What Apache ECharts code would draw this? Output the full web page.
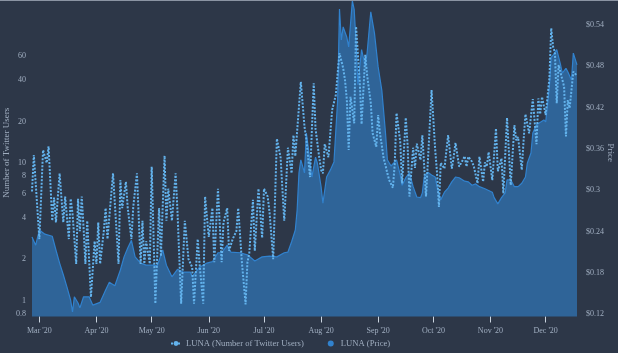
<!DOCTYPE html>
<html>
<head>
<meta charset="utf-8">
<script src="https://cdn.jsdelivr.net/npm/echarts@6/dist/echarts.min.js"></script>
<style>
  html, body { margin: 0; padding: 0; background: #2d3748; }
  #chart-container { width: 618px; height: 353px; }
  #top-rule { position: absolute; top: 0; left: 0; width: 618px; height: 1px; background: #8b94a3; }
</style>
</head>
<body>
<div id="chart-container"></div>
<div id="top-rule"></div>
<script>
// days counted from 26 Feb 2020
var twitterDay = [
  0, 1, 4, 6, 8, 9, 11, 12, 13, 15,
  17, 18, 20, 21, 22, 24, 25, 26, 27, 28,
  29, 30, 32, 34, 35, 36, 37, 39, 40, 41,
  44, 47, 48, 49, 51, 52, 54, 55, 57, 59,
  60, 61, 62, 64, 65, 67, 69, 70, 72, 73,
  74, 76, 77, 78, 79, 81, 83, 85, 87, 88,
  90, 91, 93, 94, 96, 98, 99, 101, 103, 104,
  106, 107, 109, 111, 112, 114, 116, 117, 118, 120,
  121, 123, 125, 126, 128, 129, 131, 133, 135, 136,
  137, 139, 141, 142, 143, 146, 148, 149, 151, 153,
  154, 156, 157, 158, 159, 161, 163, 165, 166, 167,
  169, 170, 171, 172, 173, 175, 176, 178, 179, 181,
  182, 184, 185, 187, 188, 189, 191, 192, 193, 194,
  196, 197, 198, 200, 201, 203, 204, 205, 207, 208,
  209, 211, 212, 214, 216, 217, 219, 220, 221, 222,
  224, 225, 226, 228, 229, 230, 232, 234, 235, 236,
  237, 239, 240, 242, 243, 245, 246, 247, 248, 250,
  252, 253, 255, 256, 258, 260, 262, 263, 264, 266,
  267, 268, 270, 272, 273, 274, 275, 276, 277, 278,
  279, 281, 282, 283, 284, 285, 286, 287, 289, 290,
  291, 292, 293, 294, 296
];
var twitterUsers = [
  6.2, 11.4, 2.8, 12.4, 10, 13.2, 3.8, 5.6, 3.7, 8.4,
  3.7, 5.7, 2.8, 5.5, 4.3, 1.85, 5.5, 3.2, 5.7, 3.4,
  1.85, 3.8, 1.06, 2.7, 1.85, 3.7, 1.85, 3.2, 4.7, 2.8,
  8.4, 1.85, 7.5, 4.7, 7.3, 4.7, 2.8, 4.8, 8.4, 1.85,
  3.8, 1.85, 2.7, 1.85, 9.4, 0.95, 4.7, 2.1, 11.3, 3.8,
  6.5, 3.8, 5.7, 8.4, 4.5, 0.95, 3.8, 2.0, 1.75, 0.95,
  2.8, 1.85, 0.95, 5.7, 2.9, 4.7, 1.9, 6.5, 1.9, 3.7,
  4.7, 2.3, 2.8, 3.2, 4.7, 1.9, 0.94, 1.9, 2.2, 5.4,
  2.3, 6.5, 2.85, 6.5, 5.7, 4.4, 2.0, 15, 11, 11,
  3.8, 12.9, 8.4, 15.9, 11.2, 38.9, 18.3, 14.9, 7.9, 37.9,
  17.6, 11, 8.9, 8.4, 13.7, 11, 24.2, 31.1, 44.8, 62.6,
  48.9, 40, 28.6, 12.4, 30.2, 19.4, 97.8, 38.9, 19.1, 60.9,
  43.5, 27.2, 16.4, 13.1, 22.3, 16.4, 10.8, 9.6, 8.4, 7.5,
  6.6, 9.8, 23, 14.2, 7.1, 21.3, 13.5, 5.7, 12.9, 9.2,
  13.8, 10.5, 15.9, 5.7, 18.3, 33.8, 12.4, 8.4, 4.8, 10,
  9.1, 9.4, 15.9, 9.1, 11, 14, 9.4, 10.5, 11.2, 9.4,
  11.1, 10.2, 9.4, 7.1, 11.1, 7.3, 10.1, 9.4, 12, 7.5,
  17.8, 8.7, 10.8, 6.0, 21.3, 6.9, 18.8, 14.6, 15.4, 8.9,
  14.6, 22.6, 16.4, 29.1, 28.6, 13.7, 29.4, 22.6, 30.2, 29.9,
  22.3, 41.1, 95.3, 70, 63.5, 27.1, 51.5, 53, 35.8, 15.6,
  28.6, 25, 25, 46, 43
];

var priceDay = [
  0, 2, 4, 7, 11, 13, 15, 17, 19, 21,
  22, 23, 25, 26, 28, 31, 33, 37, 40, 42,
  45, 48, 50, 52, 54, 56, 59, 62, 66, 68,
  71, 73, 76, 79, 82, 86, 87, 91, 95, 98,
  101, 103, 106, 108, 113, 117, 121, 125, 129, 133,
  137, 139, 141, 143, 144, 145, 146, 148, 149, 150,
  152, 154, 155, 157, 158, 160, 162, 164, 166, 167,
  168, 169, 171, 172, 174, 175, 176, 177, 179, 181,
  182, 184, 186, 188, 190, 192, 193, 195, 198, 200,
  201, 203, 205, 207, 209, 211, 212, 213, 215, 217,
  219, 220, 222, 224, 226, 228, 230, 232, 235, 237,
  239, 241, 243, 246, 247, 250, 251, 253, 255, 257,
  258, 260, 262, 264, 266, 268, 269, 271, 272, 274,
  278, 279, 281, 282, 283, 285, 287, 288, 290, 291,
  293, 294, 296
];
var priceUsd = [
  0.232, 0.220, 0.242, 0.236, 0.233, 0.213, 0.194, 0.177, 0.159, 0.140,
  0.123, 0.145, 0.136, 0.129, 0.145, 0.145, 0.133, 0.137, 0.155, 0.166,
  0.161, 0.184, 0.203, 0.216, 0.227, 0.203, 0.194, 0.191, 0.191, 0.190,
  0.213, 0.191, 0.174, 0.185, 0.181, 0.181, 0.174, 0.188, 0.194, 0.196,
  0.209, 0.209, 0.220, 0.210, 0.209, 0.206, 0.197, 0.203, 0.204, 0.203,
  0.209, 0.210, 0.225, 0.242, 0.271, 0.325, 0.344, 0.325, 0.383, 0.363,
  0.319, 0.348, 0.339, 0.305, 0.281, 0.319, 0.329, 0.341, 0.431, 0.563,
  0.518, 0.537, 0.522, 0.508, 0.575, 0.562, 0.514, 0.453, 0.504, 0.480,
  0.499, 0.559, 0.528, 0.479, 0.445, 0.383, 0.344, 0.335, 0.344, 0.322,
  0.307, 0.318, 0.325, 0.305, 0.290, 0.289, 0.296, 0.319, 0.326, 0.322,
  0.319, 0.305, 0.286, 0.297, 0.303, 0.312, 0.319, 0.318, 0.313, 0.312,
  0.307, 0.309, 0.305, 0.302, 0.300, 0.297, 0.289, 0.280, 0.289, 0.296,
  0.315, 0.315, 0.305, 0.305, 0.310, 0.319, 0.339, 0.354, 0.383, 0.395,
  0.402, 0.399, 0.450, 0.493, 0.496, 0.504, 0.483, 0.470, 0.477, 0.472,
  0.460, 0.499, 0.482
];

// first day of each month, as a day count from 26 Feb 2020
var monthDay = [4, 35, 65, 96, 126, 157, 188, 218, 249, 279];
var monthLabels = ["Mar '20", "Apr '20", "May '20", "Jun '20", "Jul '20",
  "Aug '20", "Sep '20", "Oct '20", "Nov '20", "Dec '20"];
var userTicks = [0.8, 1, 2, 4, 6, 8, 10, 20, 40, 60];
var priceTicks = [0.12, 0.18, 0.24, 0.3, 0.36, 0.42, 0.48, 0.54];

var fontName = "Liberation Serif";
var textColor = "#a0aec0";

var twitterData = twitterDay.map(function (d, i) { return [d, twitterUsers[i]]; });
var priceData = priceDay.map(function (d, i) { return [d, priceUsd[i]]; });

var myChart = echarts.init(document.getElementById("chart-container"));

var option = {
  backgroundColor: "#2d3748",
  animation: false,
  grid: { left: 32, right: 41, top: 1, bottom: 36.5, outerBoundsMode: "none" },
  legend: {
    bottom: 0,
    left: 165,
    itemGap: 24,
    itemWidth: 10,
    itemHeight: 6,
    textStyle: { color: textColor, fontSize: 8.6, fontFamily: fontName },
    data: [
      { name: "LUNA (Number of Twitter Users)" },
      { name: "LUNA (Price)", icon: "circle" }
    ]
  },
  xAxis: {
    type: "value",
    min: 0,
    max: 296,
    axisLine: { show: false },
    splitLine: { show: false },
    axisTick: {
      show: true,
      length: 6,
      customValues: monthDay,
      lineStyle: { color: "#cbd5e0" }
    },
    axisLabel: {
      customValues: monthDay,
      color: textColor,
      fontSize: 8,
      fontFamily: fontName,
      margin: 10,
      formatter: function (v) {
        var i = monthDay.indexOf(Math.round(v));
        return i < 0 ? "" : monthLabels[i];
      }
    }
  },
  yAxis: [
    {
      type: "log",
      logBase: 10,
      min: 0.767,
      max: 150,
      position: "left",
      name: "Number of Twitter Users",
      nameLocation: "middle",
      nameGap: 21,
      nameMoveOverlap: false,
      nameTextStyle: { color: textColor, fontSize: 9, fontFamily: fontName, padding: [0, 0, 0, 12] },
      axisLine: { show: false },
      axisTick: { show: false },
      splitLine: { show: false },
      axisLabel: {
        customValues: userTicks,
        color: textColor,
        fontSize: 8,
        fontFamily: fontName,
        margin: 6,
        formatter: function (v) { return String(Math.round(v * 10) / 10); }
      }
    },
    {
      type: "value",
      min: 0.1164,
      max: 0.5747,
      position: "right",
      name: "Price",
      nameLocation: "middle",
      nameRotate: -90,
      nameGap: 29,
      nameMoveOverlap: false,
      nameTextStyle: { color: textColor, fontSize: 9, fontFamily: fontName, padding: [0, 12, 0, 0] },
      axisLine: { show: false },
      axisTick: { show: false },
      splitLine: { show: false },
      axisLabel: {
        customValues: priceTicks,
        color: textColor,
        fontSize: 8,
        fontFamily: fontName,
        margin: 9,
        formatter: function (v) { return "$" + (+v.toFixed(2)); }
      }
    }
  ],
  series: [
    {
      name: "LUNA (Price)",
      type: "line",
      yAxisIndex: 1,
      data: priceData,
      symbol: "none",
      z: 1,
      lineStyle: { color: "#3182ce", width: 1.2 },
      itemStyle: { color: "#3182ce" },
      areaStyle: { color: "#3182ce", opacity: 0.6, origin: "start" }
    },
    {
      name: "LUNA (Number of Twitter Users)",
      type: "line",
      yAxisIndex: 0,
      data: twitterData,
      symbol: "none",
      z: 2,
      lineStyle: { color: "#63b3ed", width: 2, type: [2, 1.5] },
      itemStyle: { color: "#63b3ed" }
    }
  ]
};

myChart.setOption(option);
</script>
</body>
</html>
